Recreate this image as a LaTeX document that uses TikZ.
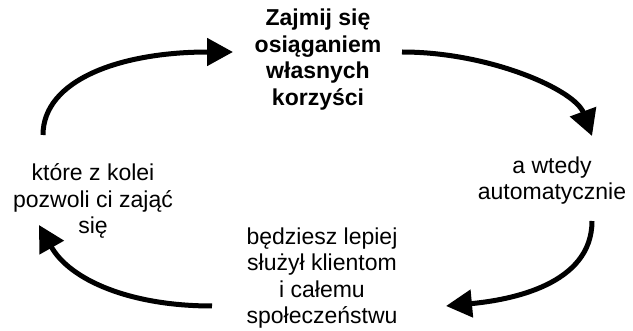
\documentclass[tikz,border=0pt]{standalone}
\usepackage{fontspec}
\setmainfont{Liberation Sans}
\usetikzlibrary{arrows.meta}

\begin{document}
\begin{tikzpicture}[
    x=1pt, y=-1pt,
    stage/.style={align=center, inner sep=0pt, anchor=base, font=\fontsize{23}{26.5}\selectfont},
    cycle arrow/.style={line width=5pt, -{Triangle[length=26pt, width=27pt]}}
]
\useasboundingbox (0,0) rectangle (633,331);

% the four stages of the loop (placed by the baseline of their last line)
\node[stage, font=\fontsize{23}{26.5}\selectfont\bfseries] (own) at (318,105.5) {Zajmij się\\osiąganiem\\własnych\\korzyści};
\node[stage] (auto) at (552,200) {a wtedy\\automatycznie};
\node[stage] (serve) at (322,324) {będziesz lepiej\\służył klientom\\i całemu\\społeczeństwu};
\node[stage] (again) at (93,234) {które z kolei\\pozwoli ci zająć\\się};

% arrow end points
\coordinate (own-in) at (233,52);
\coordinate (own-out) at (402,52);
\coordinate (auto-in) at (592,136);
\coordinate (auto-out) at (592,221);
\coordinate (serve-in) at (446,306);
\coordinate (serve-out) at (212,306);
\coordinate (again-in) at (39,225);
\coordinate (again-out) at (43,135);

\draw[cycle arrow] (own-out) .. controls (490,52) and (575,90) .. (auto-in);
\draw[cycle arrow] (auto-out) .. controls (592,285) and (510,300) .. (serve-in);
\draw[cycle arrow] (serve-out) .. controls (130,306) and (70,280) .. (again-in);
\draw[cycle arrow] (again-out) .. controls (43,80) and (120,52) .. (own-in);

\end{tikzpicture}
\end{document}
